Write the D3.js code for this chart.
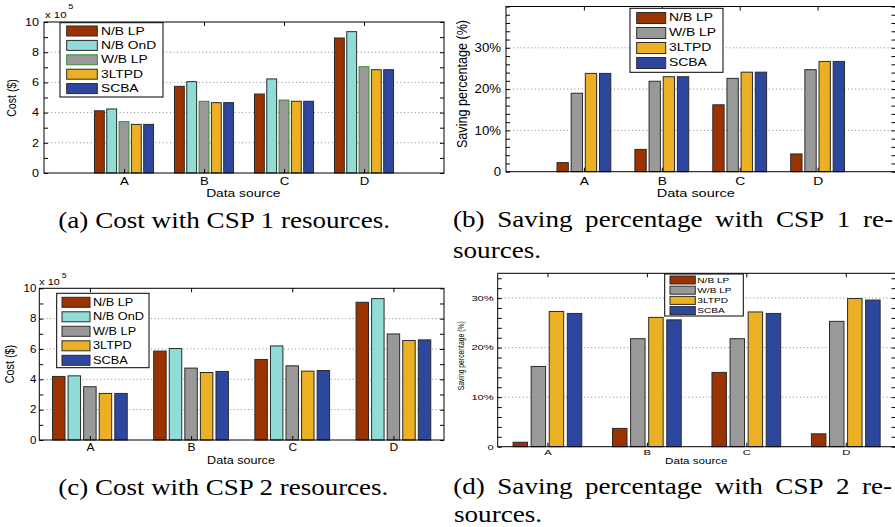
<!DOCTYPE html>
<html><head><meta charset="utf-8">
<script src="https://cdn.jsdelivr.net/npm/d3@7/dist/d3.min.js"></script>
<style>body{margin:0;background:#fff} svg{display:block}</style>
</head><body>
<svg id="fig" width="895" height="527"></svg>
<script>
// ---------------- data ----------------
const categories = ["A", "B", "C", "D"];
const costSeries = ["N/B LP", "N/B OnD", "W/B LP", "3LTPD", "SCBA"];
const savingSeries = ["N/B LP", "W/B LP", "3LTPD", "SCBA"];
// (a) cost with CSP 1 resources, x 10^5 $ (rows follow costSeries)
const costCSP1 = [
  [4.12, 5.74, 5.23, 8.94],
  [4.24, 6.05, 6.23, 9.36],
  [3.40, 4.75, 4.83, 7.04],
  [3.22, 4.66, 4.75, 6.84],
  [3.22, 4.66, 4.75, 6.84]
];
// (b) saving percentage with CSP 1 resources, % (rows follow savingSeries)
const savingCSP1 = [
  [2.2, 5.4, 16.2, 4.3],
  [19.0, 21.9, 22.6, 24.7],
  [23.8, 23.0, 24.1, 26.7],
  [23.8, 23.0, 24.1, 26.7]
];
// (c) cost with CSP 2 resources, x 10^5 $
const costCSP2 = [
  [4.19, 5.86, 5.31, 9.08],
  [4.23, 6.03, 6.20, 9.32],
  [3.51, 4.74, 4.89, 6.99],
  [3.07, 4.45, 4.54, 6.56],
  [3.07, 4.52, 4.58, 6.60]
];
// (d) saving percentage with CSP 2 resources, %
const savingCSP2 = [
  [0.9, 3.7, 15.0, 2.6],
  [16.2, 21.8, 21.8, 25.3],
  [27.3, 26.1, 27.2, 29.9],
  [26.9, 25.6, 26.9, 29.6]
];
const costTicks = [0, 2, 4, 6, 8, 10];
const savingTicks = [0, 10, 20, 30];
const captionA = "(a) Cost with CSP 1 resources.";
const captionB = ["(b) Saving percentage with CSP 1 re-", "sources."];
const captionC = "(c) Cost with CSP 2 resources.";
const captionD = ["(d) Saving percentage with CSP 2 re-", "sources."];

const colors = {"N/B LP": "#9a3300", "N/B OnD": "#8fddd6", "W/B LP": "#999999", "3LTPD": "#ebb024", "SCBA": "#2e479e"};
const SANS = "'Liberation Sans', Arial, sans-serif";
const SERIF = "'Liberation Serif', 'Times New Roman', serif";

const svg = d3.select("#fig");

function stretchedText(g, str, x, y, size, sx, anchor, rotate) {
  const t = g.append("text").text(str)
    .attr("font-family", SANS).attr("font-size", size).attr("fill", "#000")
    .attr("text-anchor", anchor || "middle").attr("dominant-baseline", "central")
    .attr("transform", `translate(${x},${y}) scale(${sx},1)` + (rotate ? ` rotate(${rotate})` : ""));
  return t;
}

function panel(o) {
  const g = svg.append("g");
  const x = d3.scaleLinear().domain(o.xDomain).range([o.left, o.right]);
  const y = d3.scaleLinear().domain(o.yDomain).range([o.bottom, o.top]);
  const unit = x(1) - x(0);
  const n = o.series.length;
  const gw = Math.min(0.8, n / (n + 1.5)) * unit;
  const inner = d3.scaleBand().domain(o.series).range([-gw / 2, gw / 2]).paddingInner(0.2).paddingOuter(0.1);

  // grid
  g.append("g").selectAll("line")
    .data(o.yTicks.filter(v => v > o.yDomain[0] && v < o.yDomain[1]))
    .join("line")
    .attr("x1", o.left).attr("x2", o.right)
    .attr("y1", d => y(d)).attr("y2", d => y(d))
    .attr("stroke", "#8a8a8a").attr("stroke-width", 1).attr("stroke-dasharray", "1,2.6");

  // bars
  o.series.forEach((s, si) => {
    g.append("g").selectAll("rect").data(o.values[si]).join("rect")
      .attr("x", (d, i) => x(i + 1) + inner(s))
      .attr("width", inner.bandwidth())
      .attr("y", d => y(d))
      .attr("height", d => y(0) - y(d))
      .attr("fill", colors[s])
      .attr("stroke", o.strokeOf(s)).attr("stroke-width", 1);
  });

  // tick marks (inside, mirrored)
  const minor = d3.range(o.yDomain[0], o.yDomain[1] + 1e-9, o.minorStep);
  const tickAxes = [
    [d3.axisRight(y).tickValues(minor), `translate(${o.left},0)`],
    [d3.axisLeft(y).tickValues(minor), `translate(${o.right},0)`],
    [d3.axisTop(x).tickValues([1, 2, 3, 4]), `translate(0,${o.bottom})`],
    [d3.axisBottom(x).tickValues([1, 2, 3, 4]), `translate(0,${o.top})`]
  ];
  tickAxes.forEach(([ax, tr]) => {
    g.append("g").attr("transform", tr)
      .call(ax.tickSize(4).tickFormat(""))
      .call(a => a.select(".domain").remove())
      .selectAll("line").attr("stroke", "#000");
  });

  // box
  g.append("rect").attr("x", o.left).attr("y", o.top)
    .attr("width", o.right - o.left).attr("height", o.bottom - o.top)
    .attr("fill", "none").attr("stroke", "#000").attr("stroke-width", 1);

  // y tick labels
  const ya = g.append("g").attr("transform", `translate(${o.left},0)`)
    .call(d3.axisLeft(y).tickValues(o.yTicks).tickSize(0).tickPadding(o.yPad).tickFormat(o.yFmt));
  ya.select(".domain").remove();
  ya.attr("font-family", SANS).attr("font-size", o.yTickFont);
  ya.selectAll("text").attr("fill", "#000")
    .attr("x", -o.yPad / o.yTickSx).attr("transform", `scale(${o.yTickSx},1)`);

  // x tick labels
  const xa = g.append("g").attr("transform", `translate(0,${o.bottom})`)
    .call(d3.axisBottom(x).tickValues([1, 2, 3, 4]).tickSize(0).tickPadding(o.xPad)
      .tickFormat(i => categories[i - 1]));
  xa.select(".domain").remove();
  xa.attr("font-family", SANS).attr("font-size", o.xTickFont);
  xa.selectAll("text").attr("fill", "#000").attr("transform", `scale(${o.xTickSx},1)`);

  // axis titles
  stretchedText(g, "Data source", o.xLabel[0], o.xLabel[1], o.xLabelFont, o.xLabelSx);
  stretchedText(g, o.yTitle, o.yLabel[0], o.yLabel[1], o.yLabelFont, o.yLabelSx, "middle", -90);

  // exponent
  if (o.mult) {
    const m = o.mult;
    g.append("text").text("x 10").attr("font-family", SANS).attr("font-size", m.size)
      .attr("transform", `translate(${m.x},${m.y}) scale(${m.sx},1)`);
    g.append("text").text("5").attr("font-family", SANS).attr("font-size", m.size * 0.8)
      .attr("transform", `translate(${m.sx5},${m.y5}) scale(${m.sx},1)`);
  }

  // legend
  const L = o.legend;
  g.append("rect").attr("x", L.x0).attr("y", L.y0).attr("width", L.x1 - L.x0).attr("height", L.y1 - L.y0)
    .attr("fill", "#fff").attr("stroke", "#000").attr("stroke-width", 1);
  o.series.forEach((s, i) => {
    const cy = L.row0 + i * L.step;
    g.append("rect").attr("x", L.sx).attr("y", cy - L.sh / 2).attr("width", L.sw).attr("height", L.sh)
      .attr("fill", colors[s]).attr("stroke", o.strokeOf(s)).attr("stroke-width", 1);
    stretchedText(g, s, L.tx, cy, L.font, L.fontSx, "start");
  });
}

const pctFmt = d => d === 0 ? "0" : d + "%";

panel({
  left: 44, right: 444, top: 22, bottom: 173,
  xDomain: [0, 5], yDomain: [0, 10], yTicks: costTicks, minorStep: 1, yFmt: d => String(d),
  series: costSeries, values: costCSP1,
  strokeOf: s => s === "W/B LP" ? "#2f8f2f" : "#2b2b2b",
  yPad: 5, yTickFont: 10.5, yTickSx: 1.2, xPad: 4.5, xTickFont: 11, xTickSx: 1.2,
  xLabel: [243.3, 193.3], xLabelFont: 11.5, xLabelSx: 1.2,
  yTitle: "Cost ($)", yLabel: [11, 98], yLabelFont: 10.6, yLabelSx: 1.2,
  mult: {x: 45, y: 18.3, size: 9.5, sx: 1.2, sx5: 68.3, y5: 9},
  legend: {x0: 60, x1: 163, y0: 22.7, y1: 97, row0: 31, step: 14.4, sx: 66.7, sw: 30.6, sh: 10, tx: 101, font: 11.5, fontSx: 1.2}
});

panel({
  left: 506, right: 895.5, top: 6.5, bottom: 171.7,
  xDomain: [0, 5], yDomain: [0, 40], yTicks: savingTicks, minorStep: 2, yFmt: pctFmt,
  series: savingSeries, values: savingCSP1,
  strokeOf: s => "#2b2b2b",
  yPad: 5, yTickFont: 12, yTickSx: 1.1, xPad: 5, xTickFont: 11.5, xTickSx: 1.2,
  xLabel: [695.8, 193], xLabelFont: 11.6, xLabelSx: 1.25,
  yTitle: "Saving percentage (%)", yLabel: [462, 84], yLabelFont: 12.6, yLabelSx: 1.1,
  legend: {x0: 630, x1: 723, y0: 8.3, y1: 72.3, row0: 18, step: 15, sx: 636.7, sw: 29, sh: 11, tx: 669, font: 10.7, fontSx: 1.3}
});

panel({
  left: 39.3, right: 444, top: 288.3, bottom: 440,
  xDomain: [0.5, 4.5], yDomain: [0, 10], yTicks: costTicks, minorStep: 1, yFmt: d => String(d),
  series: costSeries, values: costCSP2,
  strokeOf: s => "#2b2b2b",
  yPad: 3, yTickFont: 10, yTickSx: 1.15, xPad: 4, xTickFont: 10, xTickSx: 1.2,
  xLabel: [241, 460], xLabelFont: 10.5, xLabelSx: 1.2,
  yTitle: "Cost ($)", yLabel: [10, 364], yLabelFont: 10.8, yLabelSx: 1.2,
  mult: {x: 39.3, y: 285, size: 9, sx: 1.2, sx5: 61.7, y5: 278.3},
  legend: {x0: 56.7, x1: 149, y0: 293.3, y1: 367.7, row0: 302.3, step: 14.5, sx: 62, sw: 28, sh: 10, tx: 93, font: 10.2, fontSx: 1.25}
});

panel({
  left: 497.7, right: 895.5, top: 273.3, bottom: 446.7,
  xDomain: [0.5, 4.5], yDomain: [0, 35], yTicks: savingTicks, minorStep: 2, yFmt: pctFmt,
  series: savingSeries, values: savingCSP2,
  strokeOf: s => "#2b2b2b",
  yPad: 4, yTickFont: 7.2, yTickSx: 1.55, xPad: 2.5, xTickFont: 7.5, xTickSx: 1.5,
  xLabel: [696.3, 460.7], xLabelFont: 8.4, xLabelSx: 1.38,
  yTitle: "Saving percentage (%)", yLabel: [460.7, 355.8], yLabelFont: 6.8, yLabelSx: 1.3,
  legend: {x0: 664.7, x1: 743.3, y0: 274, y1: 316, row0: 280, step: 10.2, sx: 670, sw: 25.3, sh: 8, tx: 697.3, font: 7.5, fontSx: 1.35}
});

// ---------------- captions ----------------
const CAP = 24;
function capText(str, x, y) {
  return svg.append("text").text(str).attr("x", x).attr("y", y)
    .attr("font-family", SERIF).attr("font-size", CAP).attr("fill", "#000");
}
// single-line captions stretched to their measured width
const ta = capText(captionA, 58.3, 228);
const kA = (390 - 58.3) / ta.node().getComputedTextLength();
ta.attr("textLength", 390 - 58.3).attr("lengthAdjust", "spacingAndGlyphs");
const tc = capText(captionC, 58.3, 495);
tc.attr("textLength", 388.3 - 58.3).attr("lengthAdjust", "spacingAndGlyphs");

function justified(str, x0, x1, y) {
  const words = str.split(" ");
  const nodes = words.map(w => capText(w, 0, y));
  const widths = nodes.map(t => t.node().getComputedTextLength() * kA);
  const gap = (x1 - x0 - d3.sum(widths)) / (words.length - 1);
  let cx = x0;
  nodes.forEach((t, i) => {
    t.attr("x", cx).attr("textLength", widths[i]).attr("lengthAdjust", "spacingAndGlyphs");
    cx += widths[i] + gap;
  });
}
function plain(str, x0, y) {
  const t = capText(str, x0, y);
  t.attr("textLength", t.node().getComputedTextLength() * kA).attr("lengthAdjust", "spacingAndGlyphs");
}
justified(captionB[0], 453, 893, 227.3);
plain(captionB[1], 453, 258);
justified(captionD[0], 453.3, 892, 494.3);
plain(captionD[1], 454, 521.7);
</script>
</body></html>
